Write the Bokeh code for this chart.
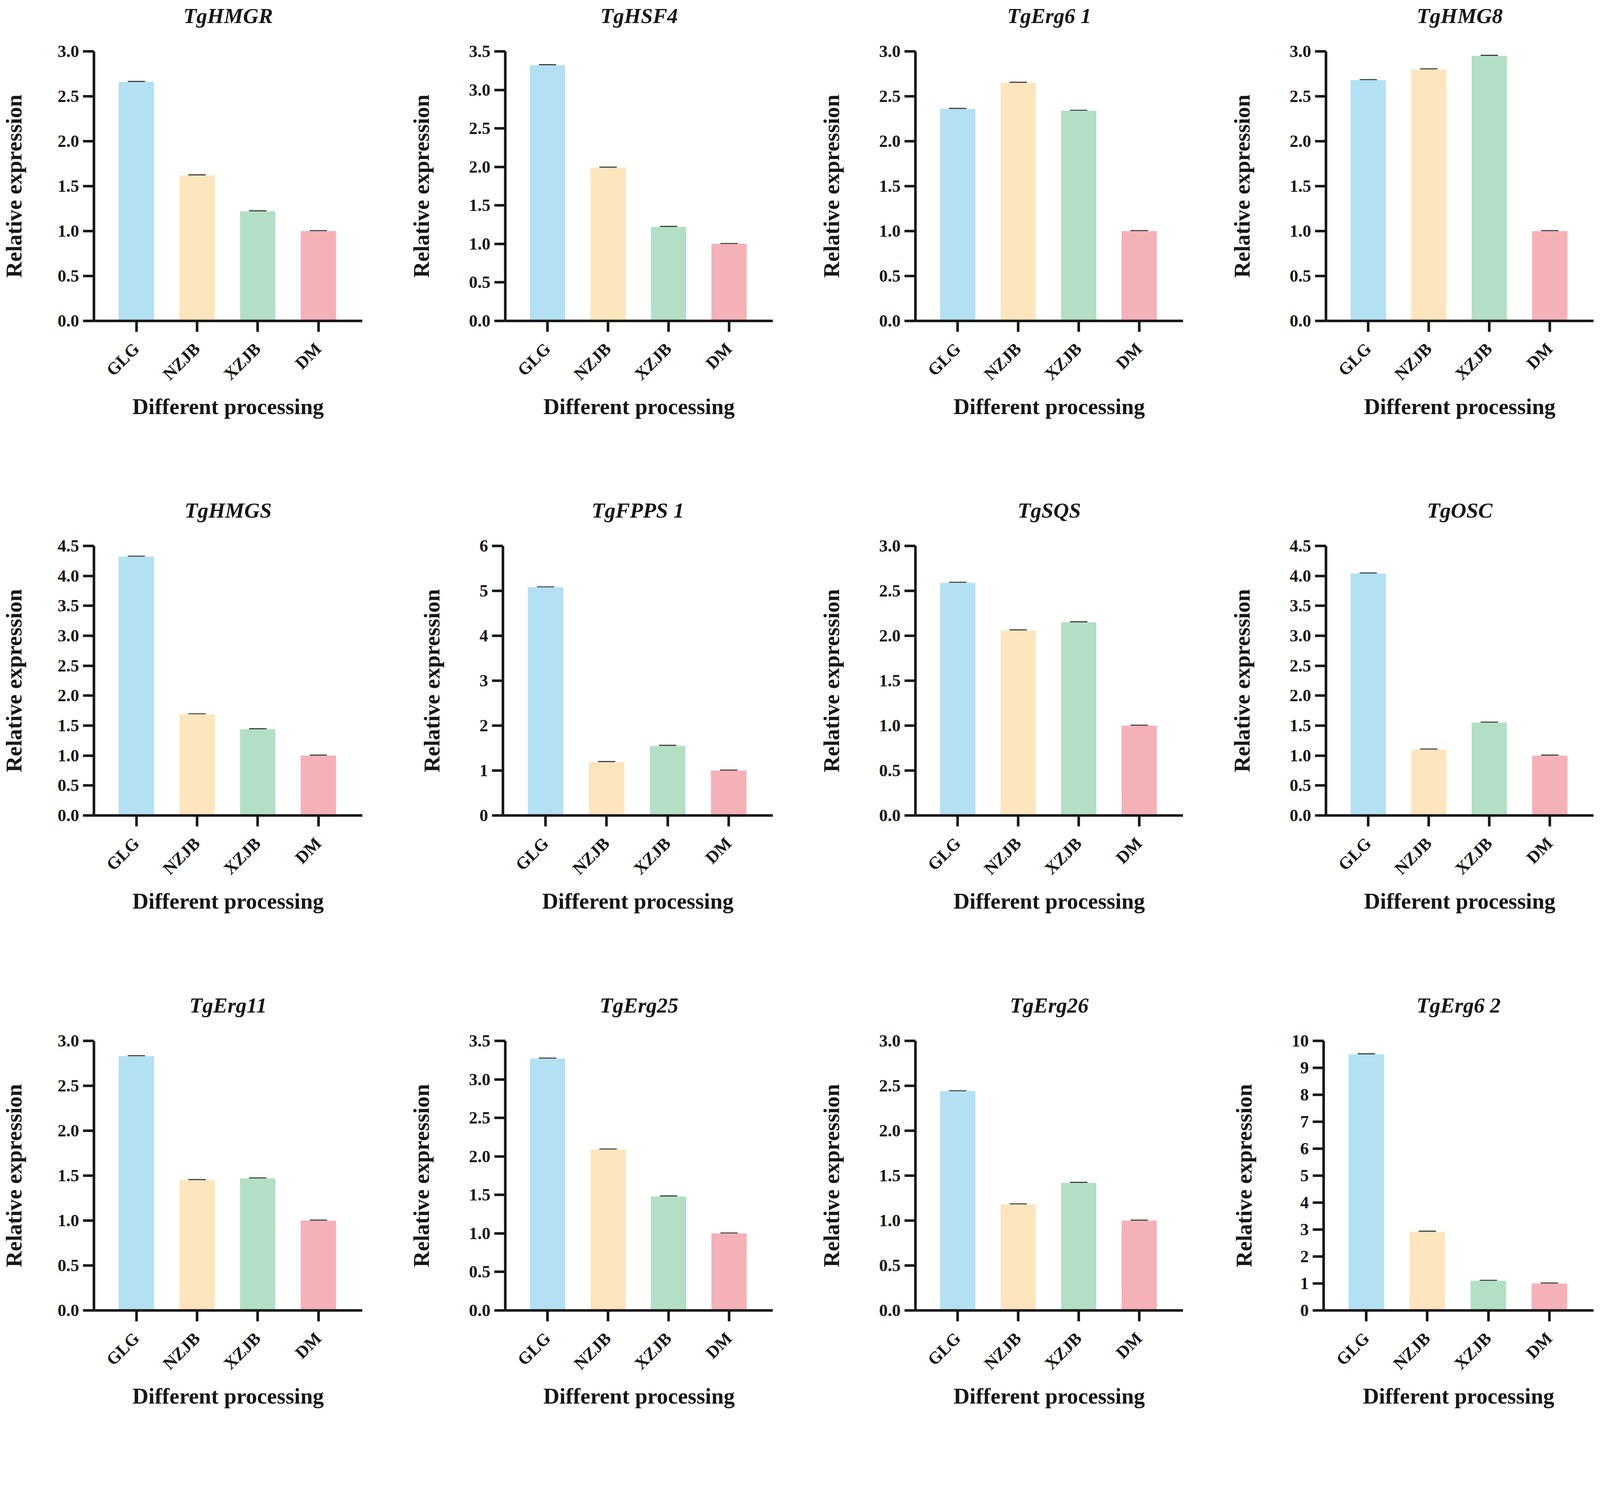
import math
from bokeh.plotting import figure
from bokeh.layouts import column, row
from bokeh.models import (Range1d, FixedTicker, PrintfTickFormatter, ColumnDataSource,
                          Whisker, TeeHead, Title)
from bokeh.embed import file_html
from bokeh.resources import INLINE

# ---------------- data ----------------
groups = ["GLG", "NZJB", "XZJB", "DM"]
genes = ["TgHMGR", "TgHSF4", "TgErg6 1", "TgHMG8",
         "TgHMGS", "TgFPPS 1", "TgSQS", "TgOSC",
         "TgErg11", "TgErg25", "TgErg26", "TgErg6 2"]

hmgr = [2.66, 1.62, 1.22, 1.00]
hsf4 = [3.32, 1.99, 1.22, 1.00]
erg6_1 = [2.36, 2.65, 2.34, 1.00]
hmg8 = [2.68, 2.80, 2.95, 1.00]
hmgs = [4.32, 1.69, 1.44, 1.00]
fpps1 = [5.08, 1.19, 1.55, 1.00]
sqs = [2.59, 2.06, 2.15, 1.00]
osc = [4.04, 1.10, 1.55, 1.00]
erg11 = [2.83, 1.45, 1.47, 1.00]
erg25 = [3.27, 2.09, 1.48, 1.00]
erg26 = [2.44, 1.18, 1.42, 1.00]
erg6_2 = [9.50, 2.92, 1.10, 1.00]

err = [0.0, 0.0, 0.0, 0.0]

y_max = [3.0, 3.5, 3.0, 3.0, 4.5, 6, 3.0, 4.5, 3.0, 3.5, 3.0, 10]
y_step = [0.5, 0.5, 0.5, 0.5, 0.5, 1, 0.5, 0.5, 0.5, 0.5, 0.5, 1]

series = [hmgr, hsf4, erg6_1, hmg8, hmgs, fpps1, sqs, osc, erg11, erg25, erg26, erg6_2]

bar_colors = ["#B3E0F3", "#FDE5BE", "#B3DFC6", "#F5B1B8"]

# ---------------- layout ----------------
FONT = "Liberation Serif"
INK = "#161616"
col_w = [1043, 1050, 1051, 940]
col_left = [236, 244, 244, 244]
ylab_standoff = [78, 88, 88, 88]
FRAME_W = 691
FRAME_H = 690
row_h = [1266, 1267, 1085]
TOP = 131


def make_panel(i):
    r, c = divmod(i, 4)
    W = col_w[c]
    H = row_h[r]
    L = col_left[c]
    R = W - L - FRAME_W
    B = H - TOP - FRAME_H
    p = figure(width=W, height=H, x_range=Range1d(-0.699, 3.724),
               y_range=Range1d(0, y_max[i]), output_backend="svg",
               toolbar_location=None, title=None,
               min_border_left=L, min_border_right=R,
               min_border_top=TOP, min_border_bottom=B)
    p.outline_line_color = None
    p.xgrid.visible = False
    p.ygrid.visible = False
    p.background_fill_color = "white"
    p.border_fill_color = "white"

    xs = list(range(len(groups)))
    vals = series[i]
    src = ColumnDataSource(dict(x=xs, top=vals, color=bar_colors,
                                hi=[v + e for v, e in zip(vals, err)],
                                lo=[v - e for v, e in zip(vals, err)]))
    p.vbar(x="x", top="top", width=0.583, fill_color="color", line_color=None, source=src)
    head = dict(size=44, line_width=4.8, line_color="#333333")
    w = Whisker(source=src, base="x", upper="hi", lower="lo",
                upper_head=TeeHead(**head), lower_head=TeeHead(**head),
                line_color="#333333", line_width=4.8)
    p.add_layout(w)

    # title: spacer panel next to the frame, then the real title above it
    spacer = Title(text=" ", text_font_size="10px", standoff=48)
    p.add_layout(spacer, "above")
    t = Title(text=genes[i], align="center", standoff=0,
              text_font=FONT, text_font_style="bold italic",
              text_font_size="55px", text_color=INK)
    p.add_layout(t, "above")

    n = int(round(y_max[i] / y_step[i]))
    ticks = [k * y_step[i] for k in range(n + 1)]
    for ax in (p.xaxis[0], p.yaxis[0]):
        ax.axis_line_width = 6.6
        ax.axis_line_color = INK
        ax.major_tick_line_width = 6.6
        ax.major_tick_line_color = INK
        ax.major_tick_out = 28
        ax.major_tick_in = 0
        ax.minor_tick_line_color = None
        ax.major_label_text_font = FONT
        ax.major_label_text_font_style = "bold"
        ax.major_label_text_color = INK
        ax.major_label_text_font_size = "44px"
        ax.axis_label_text_font = FONT
        ax.axis_label_text_font_style = "bold"
        ax.axis_label_text_font_size = "57px"
        ax.axis_label_text_color = INK

    ya = p.yaxis[0]
    ya.ticker = FixedTicker(ticks=ticks)
    ya.formatter = PrintfTickFormatter(format="%.1f" if y_step[i] < 1 else "%d")
    ya.major_label_standoff = 10
    ya.axis_label = "Relative expression"
    ya.axis_label_standoff = ylab_standoff[c]

    xa = p.xaxis[0]
    xa.ticker = FixedTicker(ticks=xs)
    xa.major_label_overrides = {k: g for k, g in zip(xs, groups)}
    xa.major_label_orientation = math.pi / 4
    xa.major_label_standoff = 36
    xa.axis_label = "Different processing"
    xa.axis_label_standoff = 6
    return p


figs = [make_panel(i) for i in range(12)]
layout = column(*[row(*figs[r * 4:(r + 1) * 4]) for r in range(3)])

open("out.html", "w").write(file_html(layout, INLINE))
